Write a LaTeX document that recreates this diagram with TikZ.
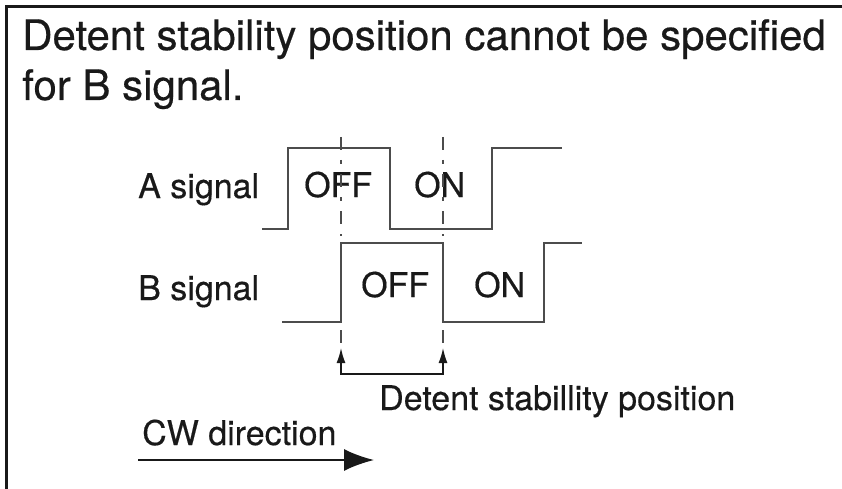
\documentclass[tikz,border=0pt]{standalone}
\usepackage{fontspec}
\setmainfont{TeX Gyre Heros}
\newfontfamily\hvm{TeX Gyre Heros}[FakeBold=0.4]
\usetikzlibrary{arrows.meta}
\tikzset{>={Latex[length=15pt, width=9pt]}}
\definecolor{cwv}{gray}{.3}
\definecolor{ctx}{gray}{.1}
\tikzset{lbl/.style={anchor=base west, inner sep=0, text=ctx, font=\hvm\fontsize{34}{40}\selectfont},
    ttl/.style={anchor=base west, inner sep=0, text=ctx, font=\hvm\fontsize{42}{50}\selectfont}}

\begin{document}
\begin{tikzpicture}[x=1pt, y=-1pt]
    \useasboundingbox (0, 0) rectangle (842, 489);
    % frame
    \draw[ctx, line width=3.5](6.5, 489)--(6.5, 6.5)--(842, 6.5);
    \node[ttl] (ttla) at (22, 50) {Detent stability position cannot be specified};
    \node[ttl] (ttlb) at (22, 100) {for B signal.};
    % signals
    \node[lbl] (siga) at (138, 198) {A signal};
    \node[lbl] (sigb) at (138, 300) {B signal};
    \draw[cwv, line width=2](262, 229)--(288, 229)--(288, 148)--(390, 148)--(390, 229)
        --(492, 229)--(492, 148)--(562, 148);
    \draw[cwv, line width=2](282, 322)--(341, 322)--(341, 243)--(443, 243)--(443, 322)
        --(544, 322)--(544, 243)--(582, 243);
    \node[lbl] (offa) at (304, 197) {OFF};
    \node[lbl] (ona) at (414, 197) {ON};
    \node[lbl] (offb) at (361, 297) {OFF};
    \node[lbl] (onb) at (474, 297) {ON};
    % detent marks
    \foreach \x/\n in {341/l, 443/r}{
        \draw[cwv, line width=1.5, dash pattern=on 13 off 10 on 4 off 10](\x, 137)--(\x, 236);
        \draw[cwv, line width=1.5](\x, 330)--(\x, 343);
        \coordinate (tip\n) at (\x, 348);
        \coordinate (bot\n) at (\x, 374);
    }
    \draw[<->, ctx, line width=1.5](tipl)--(botl)--(botr)--(tipr);
    \node[lbl] (dsp) at (379, 410) {Detent stabillity position};
    % direction
    \node[lbl] (cw) at (142, 445) {CW direction};
    \coordinate (cwa) at (138, 460);
    \coordinate (cwb) at (374, 460);
    \draw[-{Latex[length=30pt, width=22pt]}, ctx, line width=2](cwa)--(cwb);
\end{tikzpicture}
\end{document}
